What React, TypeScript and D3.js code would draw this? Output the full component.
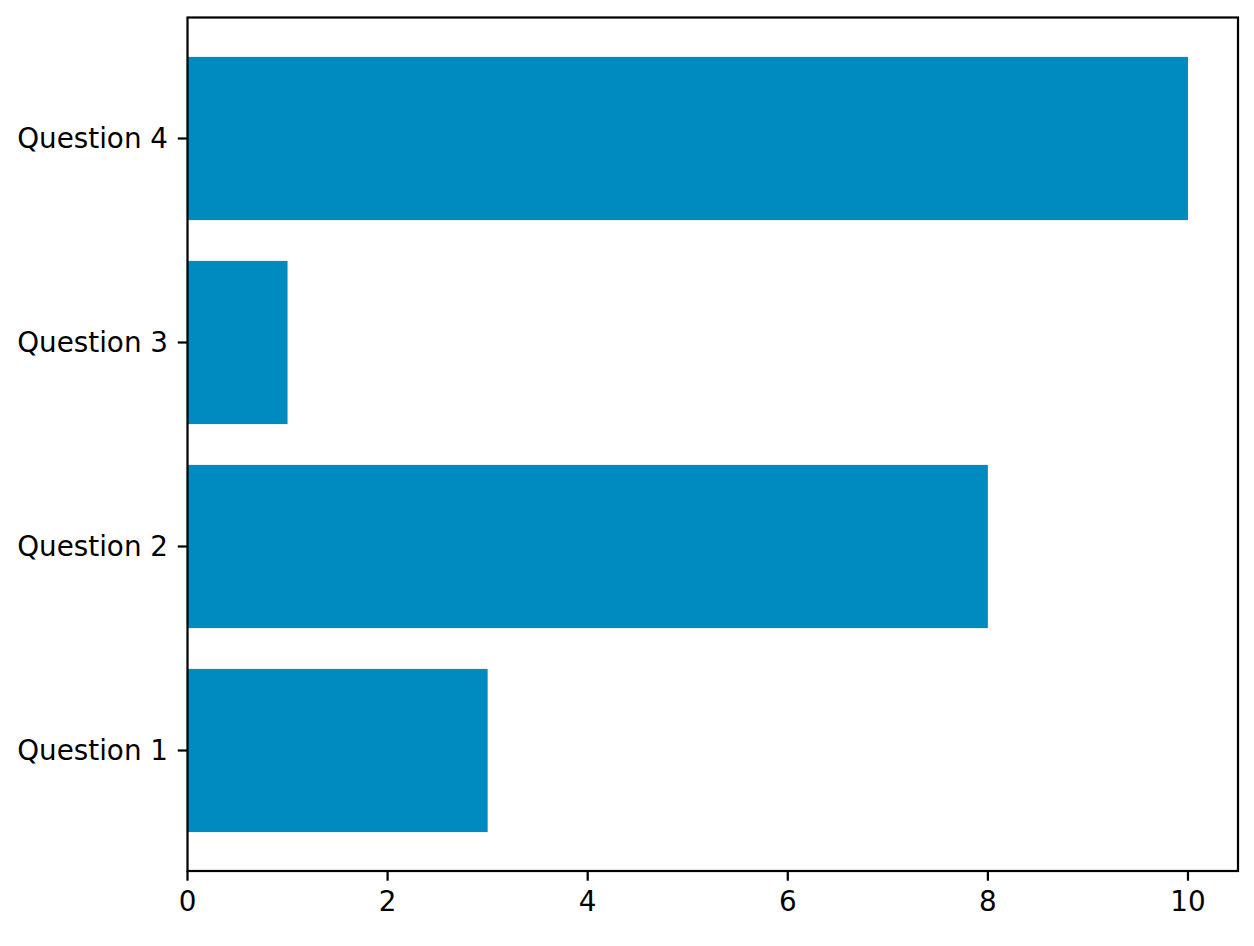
import React from "react";
import * as d3 from "d3";

const categories = ["Question 1", "Question 2", "Question 3", "Question 4"];
const values = [3, 8, 1, 10];
const xTicks = [0, 2, 4, 6, 8, 10];

const W = 1254;
const H = 946;
const left = 187.5;
const right = 1238;
const top = 17.5;
const bottom = 871;
const pt = 2.78;
const fontSize = 27.8;
const color = "#008bc0";

export default function App() {
  const x = d3.scaleLinear().domain([0, 10.5]).range([left, right]);
  const y = d3.scaleLinear().domain([-0.6, 3.6]).range([872.9, 16.1]);
  const barH = Math.abs(y(0.4) - y(-0.4));
  const tickLen = 3.5 * pt;
  const pad = 3.5 * pt;
  const lw = 0.8 * pt;
  return (
    <svg width={W} height={H} style={{ display: "block", position: "absolute", left: 0, top: 0 }}>
      <rect x={0} y={0} width={W} height={H} fill="white" />
      {values.map((v, i) => (
        <rect key={i} x={x(0)} y={y(i) - barH / 2} width={x(v) - x(0)} height={barH} fill={color} />
      ))}
      <rect x={left} y={top} width={right - left} height={bottom - top} fill="none" stroke="black" strokeWidth={lw} />
      {xTicks.map((t) => (
        <g key={t}>
          <line x1={x(t)} x2={x(t)} y1={bottom} y2={bottom + tickLen} stroke="black" strokeWidth={lw} />
          <text x={x(t)} y={bottom + tickLen + pad} textAnchor="middle" dominantBaseline="hanging"
            fontFamily="DejaVu Sans" fontSize={fontSize} fill="black">{t}</text>
        </g>
      ))}
      {categories.map((c, i) => (
        <g key={c}>
          <line x1={left - tickLen} x2={left} y1={y(i)} y2={y(i)} stroke="black" strokeWidth={lw} />
          <text x={left - tickLen - pad} y={y(i)} textAnchor="end" dominantBaseline="central"
            fontFamily="DejaVu Sans" fontSize={fontSize} fill="black">{c}</text>
        </g>
      ))}
    </svg>
  );
}
